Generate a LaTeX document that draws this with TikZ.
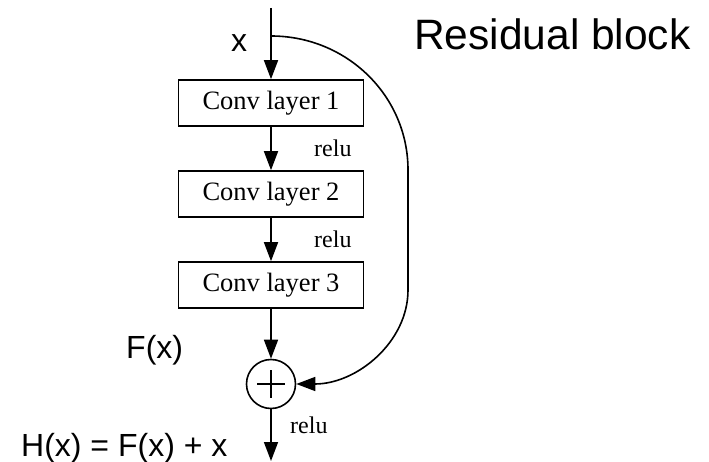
\documentclass[tikz,border=0pt]{standalone}
\usepackage{fontspec}
\setmainfont{Liberation Serif}
\newfontfamily\arial{Liberation Sans}
\usetikzlibrary{arrows.meta,calc}
\begin{document}
\begin{tikzpicture}[x=1pt,y=-1pt,
  conn/.style={line width=1.6pt,-{Triangle[length=19pt,width=14pt]}},
  convbox/.style={draw,line width=1.6pt,minimum width=185pt,minimum height=46pt,inner sep=0pt,font=\fontsize{26.5}{26.5}\selectfont},
  relulbl/.style={anchor=base west,inner sep=0pt,font=\fontsize{24}{24}\selectfont},
  sanslbl/.style={inner sep=0pt,font=\arial\fontsize{32}{32}\selectfont}]
\useasboundingbox (0,0) rectangle (709,462);
\coordinate (top) at (271,8);
\coordinate (br) at (271,36);
\node[convbox] (c1) at (271,103) {Conv layer 1};
\node[convbox] (c2) at (271,194) {Conv layer 2};
\node[convbox] (c3) at (271,285) {Conv layer 3};
\node[draw,circle,line width=1.6pt,minimum size=49pt,inner sep=0pt] (sum) at (271,384) {};
\draw[line width=1.4pt] ($(sum.center)+(-14,0)$) -- ($(sum.center)+(14,0)$);
\draw[line width=1.4pt] ($(sum.center)+(0,-14)$) -- ($(sum.center)+(0,14)$);
\coordinate (out) at (271,461);
\draw[conn] (top) -- (c1.north);
\draw[conn] (c1.south) -- (c2.north);
\draw[conn] (c2.south) -- (c3.north);
\draw[conn] (c3.south) -- (sum.north);
\draw[conn] (sum.south) -- (out);
\draw[conn] (br) .. controls (347,36) and (408,96) .. (408,170) -- (408,290) .. controls (408,342) and (357,384) .. (sum.east);
\node[relulbl] (r1) at (314,157) {relu};
\node[relulbl] (r2) at (314,248) {relu};
\node[relulbl] (r3) at (290,433) {relu};
\node[sanslbl,anchor=base west] (xl) at (231,52) {x};
\node[sanslbl,anchor=base west] (fx) at (126,358) {F(x)};
\node[sanslbl,anchor=base west] (hx) at (21,456) {H(x) = F(x) + x};
\node[inner sep=0pt,anchor=base west,font=\arial\fontsize{42.5}{42.5}\selectfont] (title) at (414,50) {Residual block};
\end{tikzpicture}
\end{document}
